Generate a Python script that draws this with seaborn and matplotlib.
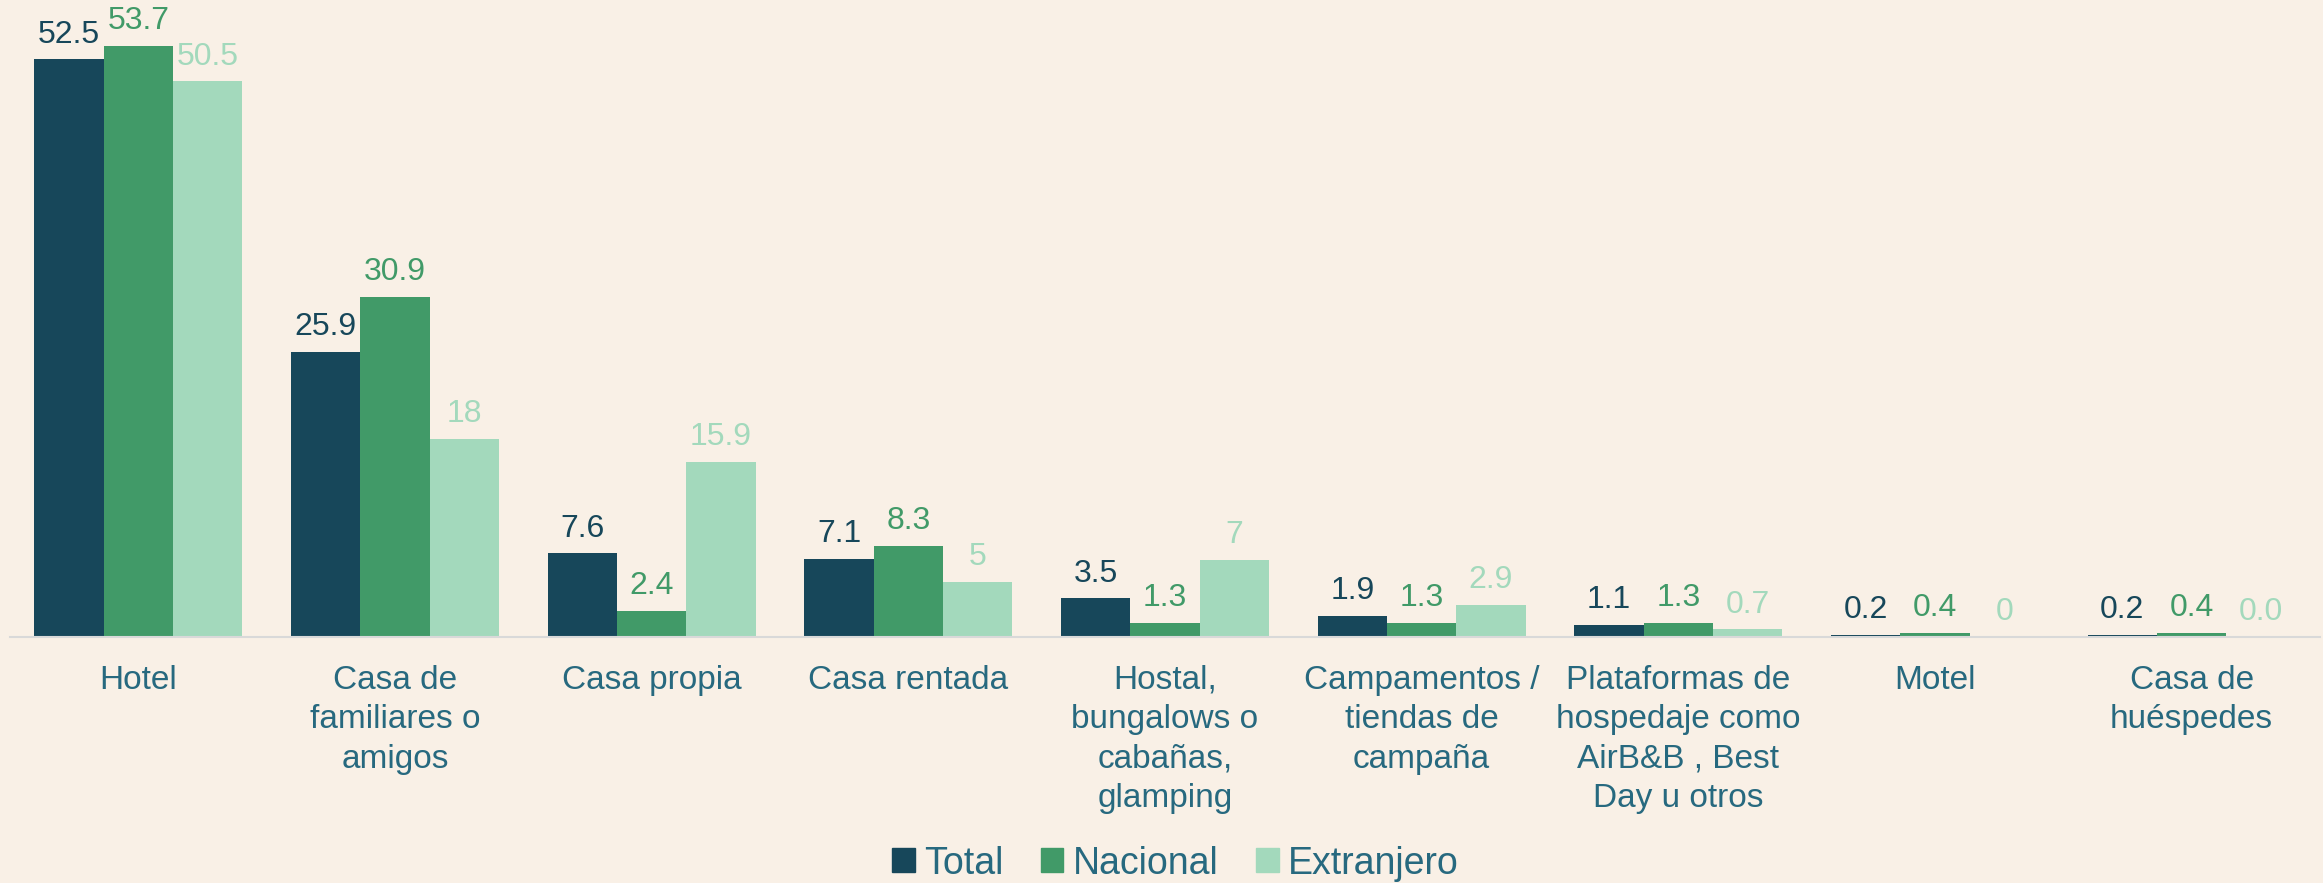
import numpy as np
import pandas as pd
import matplotlib
matplotlib.use('Agg')
import matplotlib.pyplot as plt
import seaborn as sns

# ── data ─────────────────────────────────────────────────────────────────────
categorias = [
    'Hotel',
    'Casa de\nfamiliares o\namigos',
    'Casa propia',
    'Casa rentada',
    'Hostal,\nbungalows o\ncabañas,\nglamping',
    'Campamentos /\ntiendas de\ncampaña',
    'Plataformas de\nhospedaje como\nAirB&B , Best\nDay u otros',
    'Motel',
    'Casa de\nhuéspedes',
]
total = [52.5, 25.9, 7.6, 7.1, 3.5, 1.9, 1.1, 0.2, 0.2]
nacional = [53.7, 30.9, 2.4, 8.3, 1.3, 1.3, 1.3, 0.4, 0.4]
extranjero = [50.5, 18, 15.9, 5, 7, 2.9, 0.7, 0, 0.0]

etiq_total = ['52.5', '25.9', '7.6', '7.1', '3.5', '1.9', '1.1', '0.2', '0.2']
etiq_nacional = ['53.7', '30.9', '2.4', '8.3', '1.3', '1.3', '1.3', '0.4', '0.4']
etiq_extranjero = ['50.5', '18', '15.9', '5', '7', '2.9', '0.7', '0', '0.0']

series = ['Total', 'Nacional', 'Extranjero']
colores = ['#17475A', '#419A68', '#A3D9BC']

BG = '#F9F0E6'
TXT = '#27697F'

df = pd.DataFrame({
    'cat': categorias * 3,
    'valor': total + nacional + extranjero,
    'serie': np.repeat(series, len(categorias)),
})

# ── plot ─────────────────────────────────────────────────────────────────────
sns.set_style('white')
plt.rcParams['font.family'] = ['Liberation Sans', 'DejaVu Sans']

fig = plt.figure(figsize=(23.23, 8.83), dpi=100, facecolor=BG)
ax = fig.add_axes([10 / 2323, 1 - 637 / 883, 2310 / 2323, 637 / 883])
ax.set_facecolor(BG)

sns.barplot(data=df, x='cat', y='valor', hue='serie', order=categorias,
            hue_order=series, palette=colores, saturation=1, width=0.81,
            linewidth=0, ax=ax)

etiquetas = [etiq_total, etiq_nacional, etiq_extranjero]
for cont, labs, col in zip(ax.containers, etiquetas, colores):
    for bar, lab in zip(cont, labs):
        ax.annotate(lab, (bar.get_x() + bar.get_width() / 2, bar.get_height()),
                    xytext=(0, 7), textcoords='offset points',
                    ha='center', va='bottom', fontsize=23, color=col)

ax.set_xlim(-0.5, len(categorias) - 0.5)
ax.set_ylim(0, 57.9)
ax.set_xlabel('')
ax.set_ylabel('')
ax.set_yticks([])
for s in ['top', 'right', 'left']:
    ax.spines[s].set_visible(False)
ax.spines['bottom'].set_color('#D9D9D9')
ax.spines['bottom'].set_linewidth(1.5)
ax.tick_params(axis='x', length=0, pad=20, labelsize=24, labelcolor=TXT)
for t in ax.get_xticklabels():
    t.set_linespacing(1.35)

ax.get_legend().remove()
handles = [plt.Rectangle((0, 0), 1, 1, color=c) for c in colores]
leg = fig.legend(handles, series, loc='center', bbox_to_anchor=(0.506, 0.022),
                 ncol=3, frameon=False, fontsize=27, handlelength=0.6,
                 handleheight=0.6, handletextpad=0.25, columnspacing=1.0)
for t in leg.get_texts():
    t.set_color(TXT)

fig.savefig('out.png', dpi=100, facecolor=BG)
